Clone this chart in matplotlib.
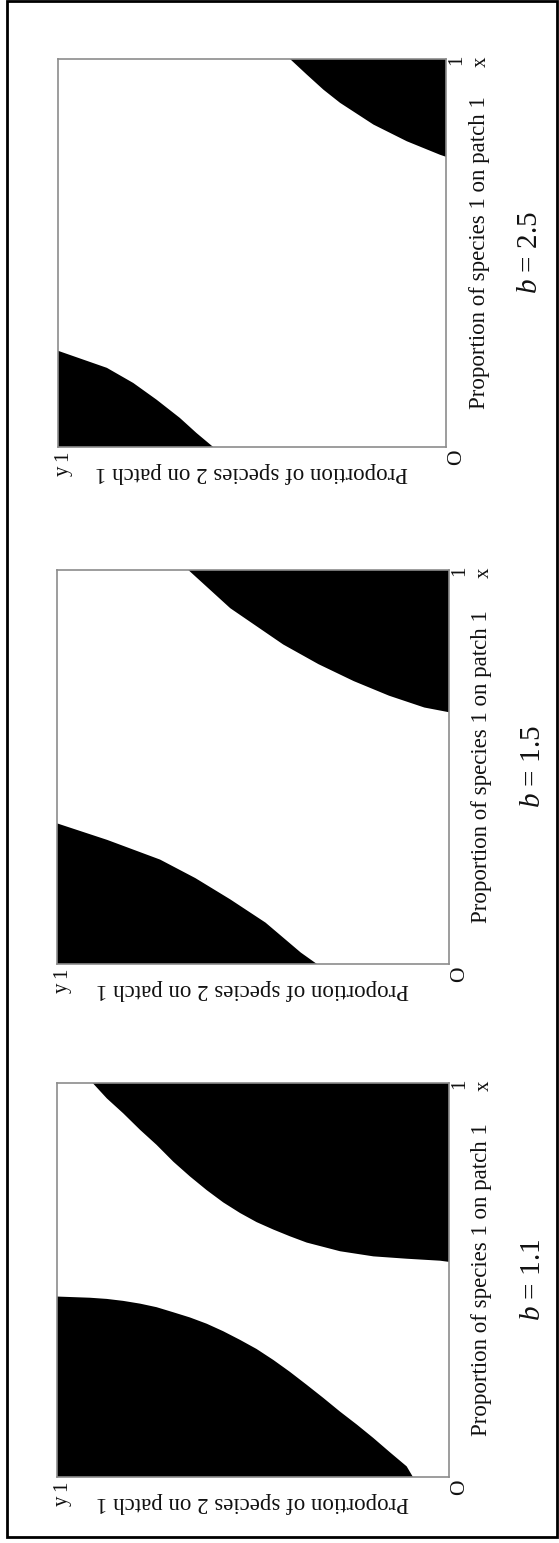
import matplotlib.pyplot as plt
from matplotlib.patches import Rectangle

plt.rcParams["font.family"] = ["Liberation Serif", "DejaVu Serif"]
plt.rcParams["mathtext.fontset"] = "custom"
plt.rcParams["mathtext.rm"] = "Liberation Serif"
plt.rcParams["mathtext.it"] = "Liberation Serif:italic"

W, H = 559, 1543

# b values shown under each panel
b_labels = ["$b$ = 1.1", "$b$ = 1.5", "$b$ = 2.5"]
x_label = "Proportion of species 1 on patch 1"
y_label = "Proportion of species 2 on patch 1"

# boundary of the black region at the corner (sp1 = 1, sp2 = 0)
b11_a_sp2 = [0.909, 0.873, 0.831, 0.788, 0.746, 0.703, 0.661, 0.618, 0.576, 0.533, 0.491,
             0.448, 0.406, 0.363, 0.278, 0.193, 0.108, 0.023, 0.0]
b11_a_sp1 = [1.0, 0.961, 0.923, 0.881, 0.843, 0.800, 0.763, 0.728, 0.697, 0.670, 0.647,
             0.628, 0.611, 0.595, 0.573, 0.560, 0.554, 0.549, 0.546]
# boundary of the black region at the corner (sp1 = 0, sp2 = 1)
b11_b_sp2 = [1.0, 0.916, 0.873, 0.831, 0.788, 0.746, 0.703, 0.661, 0.618, 0.576, 0.533,
             0.491, 0.448, 0.406, 0.363, 0.321, 0.278, 0.235, 0.193, 0.151, 0.108, 0.092]
b11_b_sp1 = [0.458, 0.455, 0.452, 0.447, 0.440, 0.431, 0.418, 0.405, 0.389, 0.370, 0.348,
             0.325, 0.297, 0.267, 0.234, 0.201, 0.166, 0.133, 0.099, 0.063, 0.027, 0.0]

b15_a_sp2 = [0.665, 0.558, 0.423, 0.333, 0.243, 0.153, 0.063, 0.0]
b15_a_sp1 = [1.0, 0.903, 0.811, 0.761, 0.718, 0.681, 0.651, 0.639]
b15_b_sp2 = [1.0, 0.872, 0.737, 0.647, 0.558, 0.468, 0.378, 0.337]
b15_b_sp1 = [0.357, 0.315, 0.265, 0.218, 0.164, 0.105, 0.029, 0.0]

b25_a_sp2 = [0.402, 0.359, 0.316, 0.273, 0.187, 0.101, 0.015, 0.0]
b25_a_sp1 = [1.0, 0.960, 0.921, 0.887, 0.831, 0.788, 0.753, 0.748]
b25_b_sp2 = [1.0, 0.874, 0.806, 0.746, 0.686, 0.643, 0.600]
b25_b_sp1 = [0.248, 0.204, 0.165, 0.122, 0.075, 0.036, 0.0]

panels = [
    # (left, top, right, bottom) in pixels, regions, label
    ((57, 1083, 449, 1477), (b11_a_sp2, b11_a_sp1), (b11_b_sp2, b11_b_sp1), b_labels[0]),
    ((57, 570, 449, 964), (b15_a_sp2, b15_a_sp1), (b15_b_sp2, b15_b_sp1), b_labels[1]),
    ((58, 59, 446, 447), (b25_a_sp2, b25_a_sp1), (b25_b_sp2, b25_b_sp1), b_labels[2]),
]

fig = plt.figure(figsize=(W / 100, H / 100), dpi=100)


def txt(x, y, s, rot, size):
    fig.text(x / W, 1 - y / H, s, rotation=rot, rotation_mode="anchor",
             ha="center", va="center", fontsize=size, color="#111111")


for (l, t, r, b), reg_a, reg_b, lab in panels:
    ax = fig.add_axes([l / W, 1 - b / H, (r - l) / W, (b - t) / H])
    # page is turned: horizontal = species 2 (reversed), vertical = species 1
    ax.set_xlim(1, 0)
    ax.set_ylim(0, 1)
    ax.fill(list(reg_a[0]) + [0.0], list(reg_a[1]) + [1.0], color="black", lw=0)
    ax.fill(list(reg_b[0]) + [1.0], list(reg_b[1]) + [0.0], color="black", lw=0)
    ax.set_xticks([])
    ax.set_yticks([])
    for sp in ax.spines.values():
        sp.set_color("#8c8c8c")
        sp.set_linewidth(1.2)

    txt(r + 11, b + 10, "O", 90, 15.5)
    txt(r + 11, t + 1, "1", 90, 15)
    txt(r + 35, t + 3, "x", 90, 15)
    txt(l + 5, b + 9, "1", 90, 15)
    txt(l + 5, b + 24, "y", 90, 15)
    txt(r + 33, (t + b) / 2, x_label, 90, 16.5)
    txt((l + r) / 2, b + 25, y_label, 180, 16.5)
    txt(r + 84, (t + b) / 2, lab, 90, 21)

fig.patches.append(Rectangle((6.5 / W, 1 - 1537 / H), (557 - 6.5) / W, (1537 - 1) / H,
                             transform=fig.transFigure, fill=False, lw=2, ec="black"))

fig.savefig("out.png", dpi=100)
